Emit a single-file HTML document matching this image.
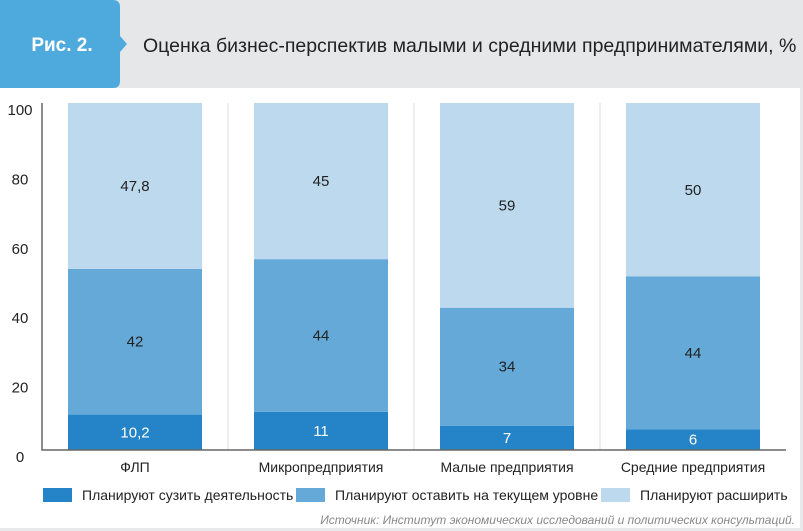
<!DOCTYPE html>
<html><head><meta charset="utf-8"><style>
body{margin:0;width:803px;height:531px;overflow:hidden;background:#e8e9eb;font-family:"Liberation Sans","DejaVu Sans",sans-serif}
svg{display:block}
</style></head><body>
<svg id="c" width="803" height="531">
<rect x="0" y="0" width="803" height="88" fill="#e6e7e9"/>
<rect x="0" y="88" width="800" height="440" fill="#ffffff"/>
<path d="M0,0 H113 Q120,0 120,7 V36 L127,44 L120,52 V81 Q120,88 113,88 H0 Z" fill="#4ea9dc"/>
<text x="62" y="51" text-anchor="middle" font-size="19" font-weight="bold" fill="#fff">Рис. 2.</text>
<text x="143" y="52" font-size="19.5" fill="#222">Оценка бизнес-перспектив малыми и средними предпринимателями, %</text>
<g id="plot"></g>
<text x="795" y="524" text-anchor="end" font-size="12" font-style="italic" fill="#888">Источник: Институт экономических исследований и политических консультаций.</text>
</svg>
<script>
const categories=["ФЛП","Микропредприятия","Малые предприятия","Средние предприятия"];
const shrink=[10.2,11,7,6];
const keep=[42,44,34,44];
const expand=[47.8,45,59,50];
const shrinkLabels=["10,2","11","7","6"];
const keepLabels=["42","44","34","44"];
const expandLabels=["47,8","45","59","50"];
const yTicks=[0,20,40,60,80,100];
const seriesNames=["Планируют сузить деятельность","Планируют оставить на текущем уровне","Планируют расширить"];
const NS="http://www.w3.org/2000/svg";
const g=document.getElementById('plot');
const y0=450,yTop=103,left=42,right=786;
const y=v=>y0-(v/100)*(y0-yTop);
const band=(right-left)/categories.length;
const x=i=>left+i*band+(band-134)/2;
function el(t,a,txt){const e=document.createElementNS(NS,t);for(const k in a)e.setAttribute(k,a[k]);if(txt!=null)e.textContent=txt;g.appendChild(e);return e;}
for(let i=1;i<categories.length;i++){
 const s=el('line',{x1:left+i*band,x2:left+i*band,y1:yTop,y2:y0,stroke:'#dcdcdc','stroke-width':1});
 
 
}
yTicks.forEach(t=>{
 const tl=el('text',{x:20,y:y(t)+12,'text-anchor':'middle','font-size':15,fill:'#222'},t);
 
 
});
const colors=["#2584c8","#65a9d8","#bcd9ee"];
const series=[shrink,keep,expand];
const labels=[shrinkLabels,keepLabels,expandLabels];
categories.forEach((c,i)=>{
 let base=0;
 series.forEach((s,k)=>{
  const v=s[i];
  const r=el('rect',{x:x(i),y:y(base+v),width:134,height:y(base)-y(base+v),fill:colors[k]});
  
  
  const tx=el('text',{x:x(i)+67,y:(y(base)+y(base+v))/2+5,'text-anchor':'middle','font-size':15,fill:k==0?'#fff':'#222'},labels[k][i]);
  
  
  base+=v;
 });
 const cl=el('text',{x:x(i)+67,y:472,'text-anchor':'middle','font-size':14,fill:'#222'},c);
 
 
});
const ax=el('path',{d:`M${left},${yTop} V${y0} H${right}`,fill:'none',stroke:'#666','stroke-width':1.5});


const lx=[43,296,601];
seriesNames.forEach((n,k)=>{
 const sw=el('rect',{x:lx[k],y:488,width:29,height:14,fill:colors[k]});
 
 
 const lt=el('text',{x:lx[k]+39,y:500,'font-size':14,fill:'#222'},n);
 
 
});
</script>
</body></html>
